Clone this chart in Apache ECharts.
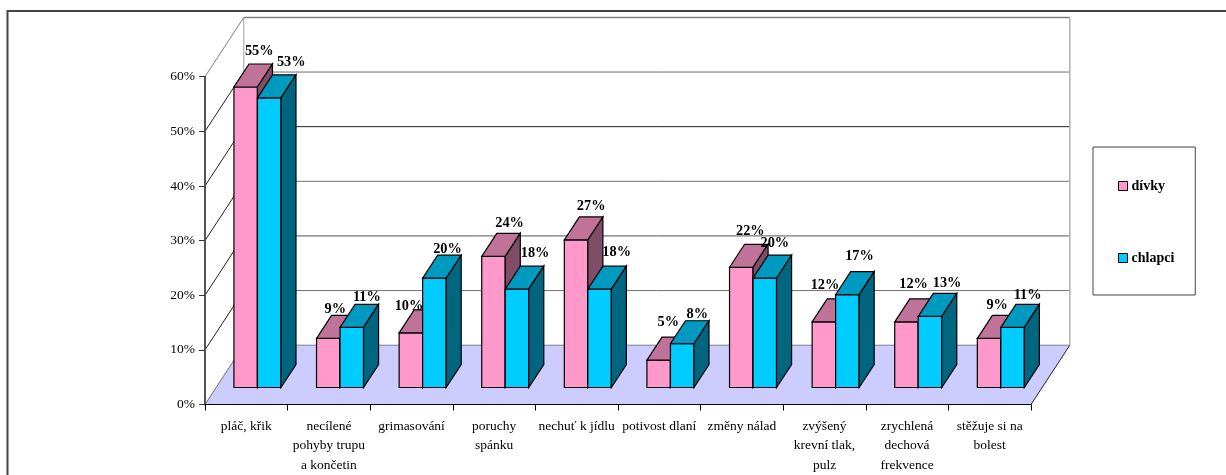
<!DOCTYPE html>
<html>
<head>
<meta charset="utf-8">
<style>html,body{margin:0;padding:0;background:#fff}#chart{width:1226px;height:475px}</style>
<script src="https://cdn.jsdelivr.net/npm/echarts@6/dist/echarts.min.js"></script>
</head>
<body>
<div id="chart"></div>
<script>
const categories = ['pláč, křik', 'necílené\npohyby trupu\na končetin', 'grimasování', 'poruchy\nspánku',
  'nechuť k jídlu', 'potivost dlaní', 'změny nálad', 'zvýšený\nkrevní tlak,\npulz', 'zrychlená\ndechová\nfrekvence', 'stěžuje si na\nbolest'];
const girls = [55, 9, 10, 24, 27, 5, 22, 12, 12, 9];
const boys = [53, 11, 20, 18, 18, 8, 20, 17, 13, 11];
const yTicks = [0, 10, 20, 30, 40, 50, 60];

// hand-placed data label offsets, [dx, dy] from the default spot above each column
const girlsLabelShift = [[-1.5,-3.5],[-8,3],[-17,5],[1,-1],[0,-2],[-5.5,-6],[-6,-4],[-14,-5],[-8,-6],[-7,-1]];
const boysLabelShift = [[7,-3.5],[0,2],[-2,3],[3,-4],[2,-5],[0,3],[-5,-3],[-3,-6],[2,-1],[0,0]];

// back wall gridline colours, keyed by the tick value
const wallLineColor = { 10: '#707070', 20: '#555', 30: '#707070', 40: '#222', 50: '#707070' };

// oblique projection: how far the floor recedes, and where the columns sit in that depth
const DEPTH = [38.8, -59.3];
const COL_FRONT = 0.287;
const COL_BACK = 0.675;
const COL_W = 23.5;

function shift(p, t) { return [p[0] + DEPTH[0] * t, p[1] + DEPTH[1] * t]; }
function poly(points, fill, stroke, lineWidth) {
  return { type: 'polygon', shape: { points }, style: { fill: fill, stroke: stroke || null, lineWidth: lineWidth || 1 } };
}
function seg(a, b, stroke, lineWidth) {
  return { type: 'line', shape: { x1: a[0], y1: a[1], x2: b[0], y2: b[1] }, style: { stroke: stroke, lineWidth: lineWidth || 1 } };
}
function shade(rgb, f) { return 'rgb(' + rgb.map(c => Math.round(c * f)).join(',') + ')'; }

// floor, back wall and side wall with their gridlines
function renderFrame(params, api) {
  const band = api.size([1, 0])[0];
  const n = categories.length;
  const x0 = api.coord([0, 0])[0] - band / 2;
  const x1 = api.coord([n - 1, 0])[0] + band / 2;
  const yOf = v => api.coord([0, v])[1];
  const fl = [x0, yOf(0)], fr = [x1, yOf(0)];
  const tl = [x0, yOf(60)], tr = [x1, yOf(60)];
  const children = [
    poly([shift(fl, 1), shift(fr, 1), shift(tr, 1), shift(tl, 1)], '#fff'),
    poly([fl, fr, shift(fr, 1), shift(fl, 1)], '#CCCCFF')
  ];
  yTicks.slice(1, -1).forEach(v => {
    const a = [x0, yOf(v)], b = [x1, yOf(v)];
    children.push(seg(a, shift(a, 1), '#222'), seg(shift(a, 1), shift(b, 1), wallLineColor[v]));
  });
  children.push(
    seg(shift(fl, 1), shift(fr, 1), '#808080'),
    seg(fl, shift(fl, 1), '#707070'),
    seg(fr, shift(fr, 1), '#222'),
    seg(tl, shift(tl, 1), '#808080'),
    seg(shift(tl, 1), shift(tr, 1), '#808080', 1.5),
    seg(shift(fl, 1), shift(tl, 1), '#a0a0a0'),
    seg(shift(fr, 1), shift(tr, 1), '#b0b0b0', 1.5)
  );
  return { type: 'group', children };
}

function columnRenderer(side, rgb, labelShift) {
  return function (params, api) {
    const i = api.value(0), v = api.value(1);
    const top = api.coord([i, v]), base = api.coord([i, 0]);
    const xL = top[0] + (side < 0 ? -COL_W : 0), xR = xL + COL_W;
    const fTL = shift([xL, top[1]], COL_FRONT), fTR = shift([xR, top[1]], COL_FRONT);
    const fBL = shift([xL, base[1]], COL_FRONT), fBR = shift([xR, base[1]], COL_FRONT);
    const bTL = shift([xL, top[1]], COL_BACK), bTR = shift([xR, top[1]], COL_BACK);
    const bBR = shift([xR, base[1]], COL_BACK);
    const st = '#000';
    const lx = (bTL[0] + bTR[0]) / 2 + labelShift[i][0];
    const ly = bTL[1] - 9 + labelShift[i][1];
    return {
      type: 'group',
      children: [
        poly([fTL, fTR, fBR, fBL], shade(rgb, 1), st, 1.2),
        poly([fTL, fTR, bTR, bTL], shade(rgb, 0.75), st, 1.2),
        poly([fTR, bTR, bBR, fBR], shade(rgb, 0.5), st, 1.2),
        { type: 'text', z2: 100, style: { text: v + '%', x: lx, y: ly, align: 'center', verticalAlign: 'middle',
            font: 'bold 14.3px "Liberation Serif"', fill: '#000' } }
      ]
    };
  };
}

const chart = echarts.init(document.getElementById('chart'));
chart.setOption({
  animation: false,
  backgroundColor: '#fff',
  textStyle: { fontFamily: 'Liberation Serif' },
  grid: { left: 205, right: 195, top: 76.7, bottom: 70 },
  legend: {
    data: ['dívky', 'chlapci'],
    orient: 'vertical',
    left: 1093, top: 147,
    padding: [32, 21, 30, 25],
    itemWidth: 9, itemHeight: 9, itemGap: 58,
    icon: 'rect',
    borderColor: '#444', borderWidth: 1,
    itemStyle: { borderColor: '#000', borderWidth: 1 },
    textStyle: { fontFamily: 'Liberation Serif', fontSize: 14, fontWeight: 'bold', color: '#000', padding: [0, 0, 0, -1] }
  },
  xAxis: {
    type: 'category', data: categories, boundaryGap: true, z: 4,
    axisLine: { lineStyle: { color: '#000', width: 1 } },
    axisTick: { show: true, alignWithLabel: false, length: 6, lineStyle: { color: '#000' } },
    axisLabel: { interval: 0, margin: 12, fontSize: 13.5, lineHeight: 19.5, color: '#000', fontFamily: 'Liberation Serif' },
    splitLine: { show: false }
  },
  yAxis: {
    type: 'value', min: 0, max: 60, interval: 10, z: 4,
    axisLine: { show: true, lineStyle: { color: '#555', width: 2 } },
    axisTick: { show: true, length: 6, lineStyle: { color: '#333' } },
    axisLabel: { formatter: '{value}%', margin: 10, fontSize: 13.5, color: '#000', fontFamily: 'Liberation Serif' },
    splitLine: { show: false }
  },
  graphic: [{
    type: 'polyline', silent: true,
    shape: { points: [[7.5, 475], [7.5, 11], [1226, 11]] },
    style: { stroke: '#444', lineWidth: 2, fill: null }
  }],
  series: [
    { type: 'custom', name: 'frame', z: 1, silent: true, data: [[0, 0]], renderItem: renderFrame, clip: false },
    { type: 'custom', name: 'dívky', z: 5, itemStyle: { color: '#FF99CC' }, clip: false,
      data: girls.map((v, i) => [i, v]), encode: { x: 0, y: 1 },
      renderItem: columnRenderer(-1, [255, 153, 204], girlsLabelShift) },
    { type: 'custom', name: 'chlapci', z: 6, itemStyle: { color: '#00CCFF' }, clip: false,
      data: boys.map((v, i) => [i, v]), encode: { x: 0, y: 1 },
      renderItem: columnRenderer(1, [0, 204, 255], boysLabelShift) }
  ]
});
</script>
</body>
</html>
